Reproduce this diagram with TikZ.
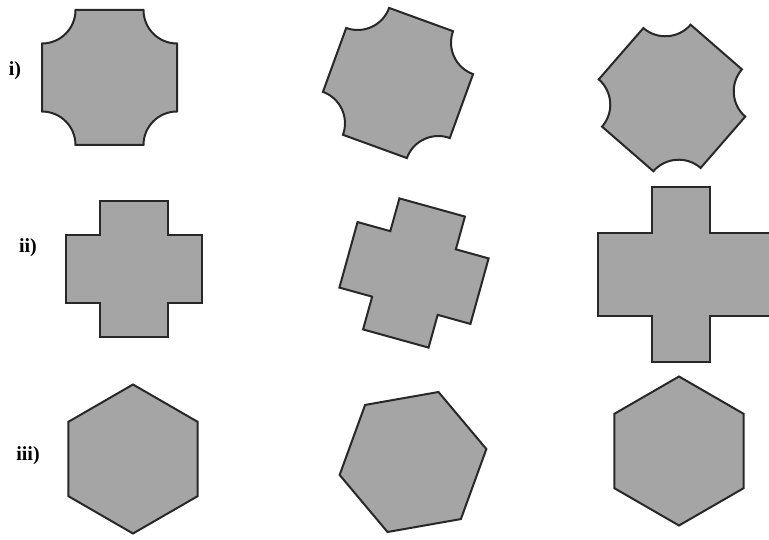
\documentclass[tikz,border=0pt]{standalone}
\usepackage{fontspec}
\setmainfont{Liberation Serif}
\definecolor{shapegray}{RGB}{165,165,165}
\definecolor{edgegray}{RGB}{40,40,40}
\tikzset{
  shapefill/.style={fill=shapegray, draw=edgegray, line width=2pt, line join=miter},
  rowlabel/.style={font=\fontsize{20}{24}\selectfont\bfseries, inner sep=0pt},
  cutsq/.pic={
    \path[shapefill] (-34,67.5) -- (34,67.5)
      arc[start angle=180,end angle=270,radius=33.5] -- (67.5,-34)
      arc[start angle=90,end angle=180,radius=33.5] -- (-34,-67.5)
      arc[start angle=0,end angle=90,radius=33.5] -- (-67.5,34)
      arc[start angle=270,end angle=360,radius=33.5] -- cycle;
  },
  crossshape/.pic={
    \path[shapefill] (-34,68) -- (34,68) -- (34,34) -- (68,34) -- (68,-34)
      -- (34,-34) -- (34,-68) -- (-34,-68) -- (-34,-34) -- (-68,-34)
      -- (-68,34) -- (-34,34) -- cycle;
  },
  hexshape/.pic={
    \path[shapefill] (90:74.5) -- (150:74.5) -- (210:74.5) -- (270:74.5)
      -- (330:74.5) -- (30:74.5) -- cycle;
  }
}
\begin{document}
\begin{tikzpicture}[x=1pt,y=1pt]
\useasboundingbox (0,0) rectangle (769,539);
\fill[white] (0,0) rectangle (769,539);
\clip (0,0) rectangle (769,539);

% row labels
\node[rowlabel] (lab1) at (15,468) {i)};
\node[rowlabel] (lab2) at (28,291) {ii)};
\node[rowlabel] (lab3) at (28,83) {iii)};

% row i
\pic at (109.5,461.5) {cutsq};
\pic[rotate=-20] at (398,456) {cutsq};
\pic[rotate=-41] at (672,441) {cutsq};

% row ii
\pic at (134,269.5) {crossshape};
\pic[rotate=-15.5] at (414,266) {crossshape};
\path[shapefill] (652,352) -- (710,352) -- (710,306) -- (800,306) -- (800,223)
  -- (710,223) -- (710,177) -- (652,177) -- (652,223) -- (598,223)
  -- (598,306) -- (652,306) -- cycle;

% row iii
\pic at (133,80) {hexshape};
\pic[rotate=-20] at (413,77) {hexshape};
\pic at (679,88) {hexshape};
\end{tikzpicture}
\end{document}
